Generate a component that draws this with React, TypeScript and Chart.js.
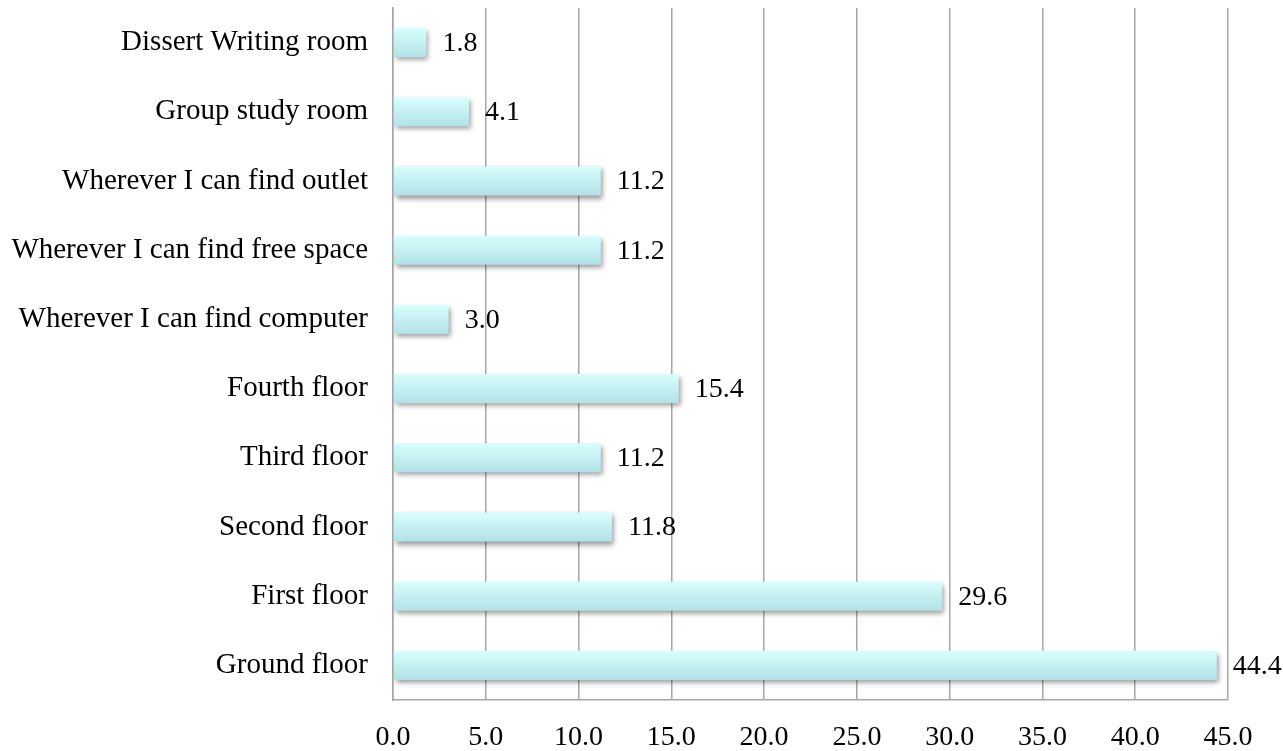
import React, { useEffect, useRef } from "react";
import { Chart, registerables } from "chart.js";

Chart.register(...registerables);

const categories = [
  "Dissert Writing room",
  "Group study room",
  "Wherever I can find outlet",
  "Wherever I can find free space",
  "Wherever I can find computer",
  "Fourth floor",
  "Third floor",
  "Second floor",
  "First floor",
  "Ground floor",
];
const values = [1.8, 4.1, 11.2, 11.2, 3.0, 15.4, 11.2, 11.8, 29.6, 44.4];
const xMin = 0;
const xMax = 45;
const xStep = 5;

const FONT = "'Liberation Serif', 'Times New Roman', serif";
const BAR_PCT = 0.42;

const shadowPlugin = {
  id: "barShadow",
  beforeDatasetsDraw(chart: any) {
    const ctx = chart.ctx;
    ctx.save();
    ctx.shadowColor = "rgba(0,0,0,0.4)";
    ctx.shadowBlur = 5;
    ctx.shadowOffsetX = 2;
    ctx.shadowOffsetY = 3;
  },
  afterDatasetsDraw(chart: any) {
    chart.ctx.restore();
  },
};

const valueLabelPlugin = {
  id: "valueLabels",
  afterDatasetsDraw(chart: any) {
    const ctx = chart.ctx;
    const meta = chart.getDatasetMeta(0);
    ctx.save();
    ctx.shadowColor = "transparent";
    ctx.font = `28px ${FONT}`;
    ctx.fillStyle = "#000";
    ctx.textAlign = "left";
    ctx.textBaseline = "middle";
    meta.data.forEach((bar: any, i: number) => {
      const v = chart.data.datasets[0].data[i] as number;
      ctx.fillText(v.toFixed(1), bar.x + 16, bar.y + 1);
    });
    ctx.restore();
  },
};

export default function App() {
  const ref = useRef<HTMLCanvasElement>(null);
  useEffect(() => {
    const canvas = ref.current!;
    const chart = new Chart(canvas, {
      type: "bar",
      data: {
        labels: categories,
        datasets: [
          {
            data: values,
            backgroundColor: (c: any) => {
              const chart = c.chart;
              const ys = chart.scales && chart.scales.y;
              const area = chart.chartArea;
              if (!ys || !area || c.dataIndex === undefined) return "#c6f1f3";
              const yc = ys.getPixelForValue(c.dataIndex);
              const h = (area.height / categories.length) * BAR_PCT;
              const top = yc - h / 2;
              const g = chart.ctx.createLinearGradient(0, top, 0, top + h);
              g.addColorStop(0, "#d8fefe");
              g.addColorStop(1, "#b2e2e6");
              return g;
            },
            borderWidth: 0,
            barPercentage: BAR_PCT,
            categoryPercentage: 1,
          },
        ],
      },
      options: {
        indexAxis: "y",
        responsive: false,
        animation: false,
        maintainAspectRatio: false,
        layout: { padding: { top: 8, right: 55, left: 0, bottom: 0 } },
        plugins: { legend: { display: false }, tooltip: { enabled: false } },
        scales: {
          x: {
            min: xMin,
            max: xMax,
            ticks: {
              stepSize: xStep,
              padding: 21,
              color: "#000",
              font: { family: FONT, size: 28 },
              callback: (v: any) => Number(v).toFixed(1),
            },
            grid: { color: "#a6a6a6", lineWidth: 1.5, drawTicks: false },
            border: { color: "#a6a6a6", width: 1.5 },
            afterFit: (s: any) => {
              s.height = 51;
              s.paddingLeft = 0;
              s.paddingRight = 0;
            },
          },
          y: {
            ticks: {
              padding: 25,
              color: "#000",
              font: { family: FONT, size: 29 },
            },
            grid: { display: false, drawTicks: false },
            border: { color: "#a6a6a6", width: 1.5 },
            afterFit: (s: any) => {
              s.width = 393;
              s.paddingTop = 0;
              s.paddingBottom = 0;
            },
          },
        },
      },
      plugins: [shadowPlugin, valueLabelPlugin],
    } as any);
    return () => chart.destroy();
  }, []);
  return (
    <div style={{ position: "fixed", left: 0, top: 0, width: 1283, height: 751, background: "#fff" }}>
      <canvas ref={ref} width={1283} height={751} style={{ display: "block" }} />
    </div>
  );
}
